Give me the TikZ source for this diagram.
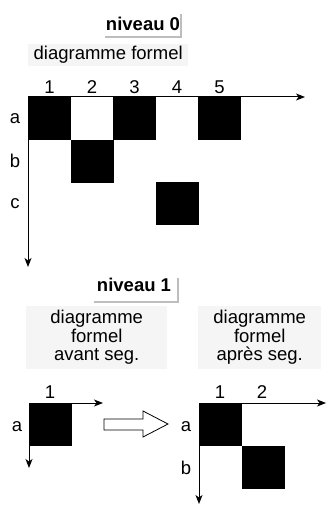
\documentclass[tikz,border=0pt]{standalone}
\usepackage{fontspec}
\setmainfont{Liberation Sans}
\usetikzlibrary{arrows.meta}
\definecolor{boxfill}{HTML}{F5F5F5}
\definecolor{shadowgray}{HTML}{BDBDBD}
\begin{document}
\begin{tikzpicture}[x=1pt,y=-1pt,
  lbl/.style={font=\fontsize{18.5}{22}\selectfont, inner sep=0pt},
  ttl/.style={font=\fontsize{18.5}{22}\selectfont\bfseries, inner sep=0pt},
  cell/.style={fill=black, draw=none, minimum width=43pt, minimum height=43pt, inner sep=0pt, anchor=north west},
  axis/.style={line width=1pt, -{Stealth[length=9pt,width=7pt,inset=2.5pt]}},
  graybox/.style={fill=boxfill, draw=none, inner sep=0pt, anchor=north west},
  hollow/.style={draw=black, line width=0.8pt, fill=white}
]
\useasboundingbox (0,0) rectangle (330,505);

% ---------- niveau 0 ----------
\node[ttl] (n0) at (143,24) {niveau 0};
\coordinate (n0a) at (105,37);
\coordinate (n0b) at (181,37);
\coordinate (n0c) at (181,14);
\draw[shadowgray, line width=2pt] (n0a) -- (n0b) -- (n0c);

\node[graybox, minimum width=160pt, minimum height=22pt] (df0) at (28,44) {};
\node[lbl] (df0t) at (df0.center) {diagramme formel};

% cells
\node[cell] (a1) at (28,97) {};
\node[cell] (a3) at (113,97) {};
\node[cell] (a5) at (198,97) {};
\node[cell] (b2) at (71,140) {};
\node[cell] (c4) at (156,182) {};

\coordinate (o0) at (28,97);
\coordinate (x0) at (305,97);
\coordinate (y0) at (28,267);
\draw[axis] (o0) -- (x0);
\draw[axis] (o0) -- (y0);

\node[lbl] (c1) at (49.5,87) {1};
\node[lbl] (c2) at (92,87) {2};
\node[lbl] (c3) at (134.5,87) {3};
\node[lbl] (c4l) at (177,87) {4};
\node[lbl] (c5) at (219.5,87) {5};
\node[lbl] (ra) at (15,119) {a};
\node[lbl] (rb) at (15,161) {b};
\node[lbl] (rc) at (15,204) {c};

% ---------- niveau 1 ----------
\node[ttl] (n1) at (134,285) {niveau 1};
\coordinate (n1a) at (94,302);
\coordinate (n1b) at (178,302);
\coordinate (n1c) at (178,278);
\draw[shadowgray, line width=2pt] (n1a) -- (n1b) -- (n1c);

\node[graybox, minimum width=141pt, minimum height=63pt] (dfl) at (26,306) {};
\node[lbl, align=center] (dflt) at (dfl.center) {diagramme\\[-3.5pt]formel\\[-3.5pt]avant seg.};
\node[graybox, minimum width=123pt, minimum height=63pt] (dfr) at (198,306) {};
\node[lbl, align=center] (dfrt) at (dfr.center) {diagramme\\[-3.5pt]formel\\[-3.5pt]après seg.};

% left small grid
\node[cell] (la1) at (29,403) {};
\coordinate (o1) at (29,403);
\coordinate (x1) at (103,403);
\coordinate (y1) at (29,468);
\draw[axis] (o1) -- (x1);
\draw[axis] (o1) -- (y1);
\node[lbl] (l1) at (50,392) {1};
\node[lbl] (la) at (17,427) {a};

% hollow arrow
\draw[hollow] (104,419) -- (143,419) -- (143,411) -- (168,424) -- (143,437) -- (143,430) -- (104,430) -- cycle;

% right grid
\node[cell] (ra1) at (199,403) {};
\node[cell] (rb2) at (242,446) {};
\coordinate (o2) at (199,403);
\coordinate (x2) at (326,403);
\coordinate (y2) at (199,504);
\draw[axis] (o2) -- (x2);
\draw[axis] (o2) -- (y2);
\node[lbl] (r1) at (220,392) {1};
\node[lbl] (r2) at (262,392) {2};
\node[lbl] (rra) at (186,427) {a};
\node[lbl] (rrb) at (186,468) {b};
\end{tikzpicture}
\end{document}
